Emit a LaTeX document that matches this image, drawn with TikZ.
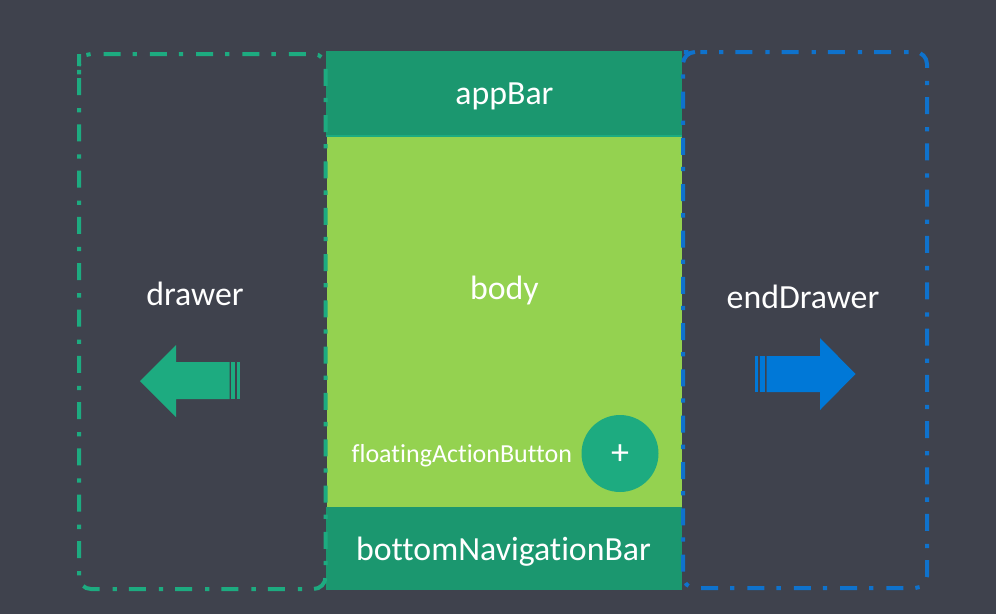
\documentclass[tikz,border=0pt]{standalone}
\usepackage{fontspec}
\setmainfont[Ligatures=NoCommon]{Carlito}
\usepackage{xcolor}
\usetikzlibrary{positioning}

\definecolor{bgdark}{HTML}{3F424D}
\definecolor{bardark}{HTML}{1B976F}
\definecolor{bodylime}{HTML}{94D250}
\definecolor{tealgreen}{HTML}{1DAB80}
\definecolor{linkblue}{HTML}{0F72CC}
\definecolor{arrowblue}{HTML}{0078D7}

\tikzset{
    barbox/.style={fill=bardark, minimum width=356pt, inner sep=0pt},
    whitelabel/.style={text=white, inner sep=0pt, font=\fontsize{33.8}{40}\selectfont},
    dashbox/.style={line width=4pt, rounded corners=12pt, dash pattern=on 17pt off 13pt on 4.3pt off 12pt}
}

\begin{document}
\begin{tikzpicture}[x=1pt, y=-1pt]
    \useasboundingbox[fill=bgdark] (0,0) rectangle (996,614);

    % Vẽ các khối ở giữa
    \node[barbox, minimum height=84pt] (appBar) at (504,93) {};
    \fill[tealgreen] (326,135) rectangle (682,137);
    \node[fill=bodylime, minimum width=355pt, minimum height=370pt, inner sep=0pt] (bodyBox) at (504.5,322) {};
    \node[barbox, minimum height=83pt] (bottomBar) at (504,548.5) {};
    \node[whitelabel] (appBarText) at (504.5,96) {appBar};
    \node[whitelabel] (bottomText) at (503.5,552) {bottomNavigationBar};
    \node[whitelabel] (bodyText) at (504.5,290) {body};

    % Nút nổi
    \node[circle, fill=tealgreen, minimum size=77pt, inner sep=0pt] (fabBtn) at (620,453.5) {};
    \node[text=white, inner sep=0pt, font=\fontsize{36}{40}\selectfont] (fabPlus) at (620,455) {+};
    \node[text=white, inner sep=0pt, font=\fontsize{26}{30}\selectfont, left=9pt of fabBtn, yshift=-2.5pt] (fabText) {floatingActionButton};

    % Hai ngăn kéo nét đứt
    \draw[dashbox, tealgreen] (79,66) -- (79,589) -- (325.5,589) -- (325.5,54) -- (79,54) -- cycle;
    \draw[dashbox, linkblue, dash phase=18pt] (695,52) -- (927,52) -- (927,588) -- (683,588) -- (683,52) -- cycle;
    \node[whitelabel] (drawerText) at (195,294) {drawer};
    \node[whitelabel] (endDrawerText) at (803,296.5) {endDrawer};

    % Mũi tên trái
    \fill[tealgreen] (140,381) -- (176,345) -- (176,362) -- (229.5,362) -- (229.5,399) -- (176,399) -- (176,417) -- cycle;
    \fill[tealgreen] (231,362) rectangle (235,399);
    \fill[tealgreen] (237,362) rectangle (240,399);

    % Mũi tên phải
    \fill[arrowblue] (855.5,374) -- (820,338) -- (820,356) -- (766.5,356) -- (766.5,392) -- (820,392) -- (820,410) -- cycle;
    \fill[arrowblue] (759.5,356) rectangle (765,392);
    \fill[arrowblue] (755,356) rectangle (758,392);
\end{tikzpicture}
\end{document}
